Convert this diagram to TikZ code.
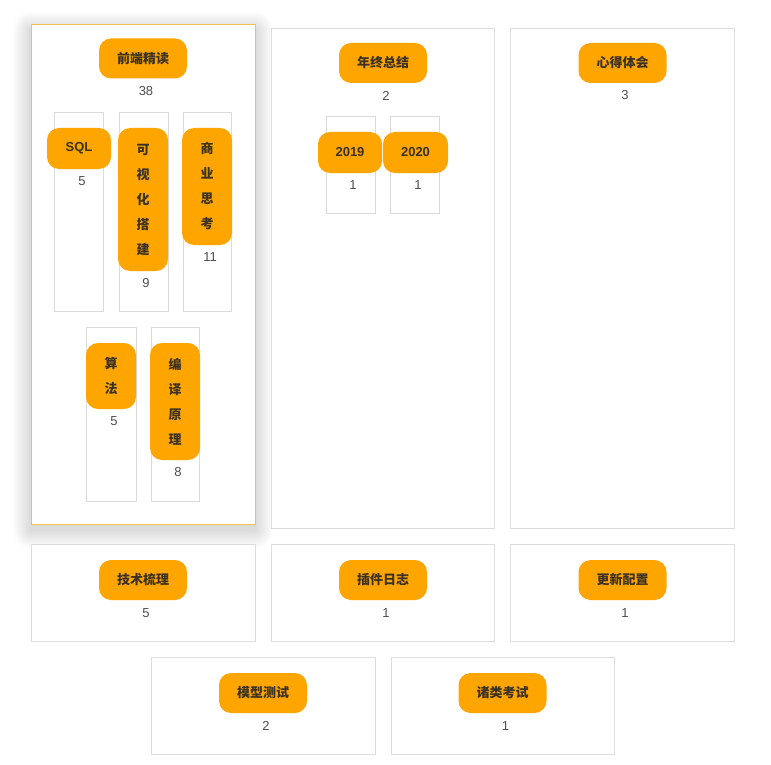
\documentclass[tikz,border=0pt]{standalone}
\usepackage{fontspec}
\newfontfamily\cjk{Noto Sans CJK SC}
\newfontfamily\numfont{Liberation Sans}
\definecolor{pillorange}{HTML}{FFA500}
\definecolor{pilltext}{HTML}{3A3226}
\definecolor{numgray}{HTML}{4D4D4D}
\definecolor{cardline}{HTML}{DDDDDD}
\definecolor{subline}{HTML}{DADADA}
\definecolor{hoverline}{HTML}{F0C14E}
\tikzset{
  card/.style={draw=cardline, line width=0.9pt, fill=white, inner sep=0pt, minimum width=224pt, minimum height=97pt},
  bigcard/.style={card, minimum height=500pt},
  hovercard/.style={bigcard, draw=hoverline},
  subcard/.style={draw=subline, line width=0.8pt, fill=white, inner sep=0pt, minimum width=49pt},
  pill/.style={fill=pillorange, rounded corners=12pt, inner sep=0pt, text=pilltext,
    font=\cjk\bfseries\fontsize{13}{25}\selectfont, align=center, minimum width=88pt, minimum height=40pt},
  vpill/.style={pill, minimum width=50pt},
  spill/.style={pill, font=\numfont\bfseries\fontsize{13}{25}\selectfont, minimum width=64pt, minimum height=41pt},
  num/.style={text=numgray, font=\numfont\fontsize{13}{14}\selectfont, inner sep=0pt}
}
\begin{document}
\begin{tikzpicture}[x=1pt,y=-1pt]
\useasboundingbox (0,0) rectangle (771,765);
\fill[white] (0,0) rectangle (771,765);

% ---- soft shadow of the hovered card ----
\foreach \i in {1,...,18}{
  \fill[black, opacity=0.006, rounded corners=\i pt]
    (31-\i,24-\i+6) rectangle (255+\i,524+\i+6);
}

% ---- card 1 (hovered) ----
\node[hovercard] (c1) at (143,274) {};
\node[pill] (p1) at (143,58.5) {前端精读};
\node[num] (n1) at (146,91) {38};

\node[subcard, minimum height=199pt] (s1a) at (78.5,211.5) {};
\node[subcard, minimum height=199pt] (s1b) at (143.5,211.5) {};
\node[subcard, minimum height=199pt, minimum width=48pt] (s1c) at (207,211.5) {};
\node[spill] (p1a) at (79,148.5) {SQL};
\node[num] (n1a) at (82,181) {5};
\node[vpill, minimum height=143pt] (p1b) at (143,199.5) {可\\视\\化\\搭\\建};
\node[num] (n1b) at (146,283) {9};
\node[vpill, minimum height=117pt] (p1c) at (207,186.5) {商\\业\\思\\考};
\node[num] (n1c) at (210,257) {11};

\node[subcard, minimum height=174pt, minimum width=50pt] (s1d) at (111,414) {};
\node[subcard, minimum height=174pt, minimum width=48pt] (s1e) at (175,414) {};
\node[vpill, minimum height=66pt] (p1d) at (111,376) {算\\法};
\node[num] (n1d) at (114,421) {5};
\node[vpill, minimum height=117pt] (p1e) at (175,401.5) {编\\译\\原\\理};
\node[num] (n1e) at (178,472) {8};

% ---- card 2 ----
\node[bigcard, minimum width=223pt] (c2) at (382.5,278) {};
\node[pill] (p2) at (383,63) {年终总结};
\node[num] (n2) at (386,96) {2};
\node[subcard, minimum height=97pt] (s2a) at (350.5,164.5) {};
\node[subcard, minimum height=97pt] (s2b) at (414.5,164.5) {};
\node[spill] (p2a) at (350,152.5) {2019};
\node[spill, minimum width=65pt] (p2b) at (415.5,152.5) {2020};
\node[num] (n2a) at (353,185) {1};
\node[num] (n2b) at (418,185) {1};

% ---- card 3 ----
\node[bigcard] (c3) at (622,278) {};
\node[pill] (p3) at (622.5,63) {心得体会};
\node[num] (n3) at (625,95) {3};

% ---- row 2 ----
\node[card] (c4) at (143,592.5) {};
\node[pill] (p4) at (143,580) {技术梳理};
\node[num] (n4) at (146,613) {5};
\node[card, minimum width=223pt] (c5) at (382.5,592.5) {};
\node[pill] (p5) at (383,580) {插件日志};
\node[num] (n5) at (386,613) {1};
\node[card] (c6) at (622,592.5) {};
\node[pill] (p6) at (622.5,580) {更新配置};
\node[num] (n6) at (625,613) {1};

% ---- row 3 ----
\node[card] (c7) at (263,705.5) {};
\node[pill] (p7) at (263,693) {模型测试};
\node[num] (n7) at (266,726) {2};
\node[card, minimum width=223pt] (c8) at (502.5,705.5) {};
\node[pill] (p8) at (502.5,693) {诸类考试};
\node[num] (n8) at (505.5,726) {1};
\end{tikzpicture}
\end{document}
